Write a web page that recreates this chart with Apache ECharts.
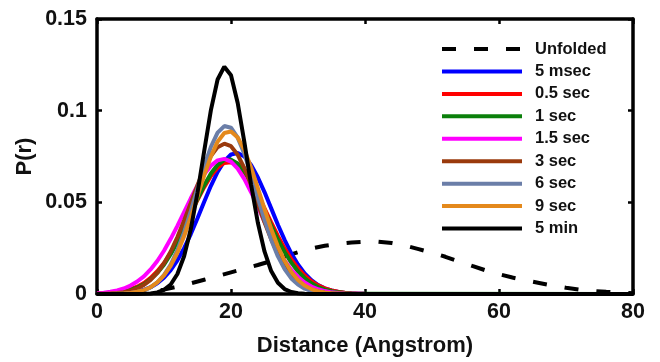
<!DOCTYPE html>
<html>
<head>
<meta charset="utf-8">
<script src="https://cdn.jsdelivr.net/npm/echarts@6/dist/echarts.min.js"></script>
<style>
  html, body { margin: 0; padding: 0; background: #fff; }
  #chart { width: 660px; height: 362px; }
</style>
</head>
<body>
<div id="chart"></div>
<script>
// distance axis (Angstrom) for the folded-state curves, 1 A steps, then the far end
const foldedR = [0, 1, 2, 3, 4, 5, 6, 7, 8, 9, 10, 11, 12, 13, 14, 15, 16, 17, 18, 19, 20,
  21, 22, 23, 24, 25, 26, 27, 28, 29, 30, 31, 32, 33, 34, 35, 36, 37, 38, 39, 40, 80];
// distance axis for the unfolded curve, 2 A steps
const unfoldedR = [0, 2, 4, 6, 8, 10, 12, 14, 16, 18, 20, 22, 24, 26, 28, 30, 32, 34, 36, 38, 40,
  42, 44, 46, 48, 50, 52, 54, 56, 58, 60, 62, 64, 66, 68, 70, 72, 74, 76, 78, 80];

const unfolded = [0, 0, 0.0002, 0.0005, 0.0012, 0.0024, 0.0040, 0.0058, 0.0078, 0.0098, 0.0118,
  0.0138, 0.0158, 0.0180, 0.0205, 0.0228, 0.0248, 0.0263, 0.0274, 0.0281, 0.0285,
  0.0285, 0.0278, 0.0264, 0.0245, 0.0225, 0.0203, 0.0178, 0.0153, 0.0129, 0.0108,
  0.0090, 0.0074, 0.0060, 0.0046, 0.0034, 0.0024, 0.0017, 0.0012, 0.0008, 0.0004];

const msec5 = [0, 0.0001, 0.0001, 0.0002, 0.0004, 0.0008, 0.0013, 0.0023, 0.0037, 0.0059, 0.0089,
  0.0130, 0.0184, 0.0250, 0.0327, 0.0413, 0.0503, 0.0590, 0.0666, 0.0725, 0.0761,
  0.0769, 0.0750, 0.0704, 0.0637, 0.0556, 0.0467, 0.0378, 0.0295, 0.0222, 0.0161,
  0.0112, 0.0076, 0.0049, 0.0031, 0.0019, 0.0011, 0.0006, 0.0003, 0.0002, 0.0001, 0];
const sec05 = [0.0002, 0.0003, 0.0006, 0.0010, 0.0016, 0.0026, 0.0040, 0.0060, 0.0088, 0.0124, 0.0169,
  0.0225, 0.0289, 0.0361, 0.0437, 0.0513, 0.0583, 0.0644, 0.0689, 0.0715, 0.0719,
  0.0702, 0.0664, 0.0609, 0.0542, 0.0467, 0.0391, 0.0317, 0.0249, 0.0190, 0.0141,
  0.0101, 0.0070, 0.0047, 0.0031, 0.0020, 0.0012, 0.0007, 0.0004, 0.0002, 0.0001, 0];
const sec1 = [0.0001, 0.0002, 0.0004, 0.0008, 0.0013, 0.0022, 0.0035, 0.0053, 0.0080, 0.0115, 0.0160,
  0.0217, 0.0283, 0.0358, 0.0438, 0.0518, 0.0593, 0.0657, 0.0705, 0.0731, 0.0733,
  0.0712, 0.0668, 0.0607, 0.0534, 0.0454, 0.0373, 0.0297, 0.0229, 0.0171, 0.0123,
  0.0086, 0.0058, 0.0038, 0.0024, 0.0015, 0.0009, 0.0005, 0.0003, 0.0001, 0.0001, 0];
const sec15 = [0.0004, 0.0007, 0.0012, 0.0020, 0.0030, 0.0046, 0.0068, 0.0096, 0.0134, 0.0180, 0.0236,
  0.0301, 0.0372, 0.0447, 0.0522, 0.0592, 0.0653, 0.0700, 0.0729, 0.0737, 0.0722,
  0.0684, 0.0627, 0.0555, 0.0476, 0.0394, 0.0315, 0.0244, 0.0183, 0.0132, 0.0093,
  0.0063, 0.0041, 0.0026, 0.0016, 0.0009, 0.0005, 0.0003, 0.0002, 0.0001, 0, 0];
const sec3 = [0.0001, 0.0002, 0.0003, 0.0006, 0.0010, 0.0018, 0.0030, 0.0049, 0.0077, 0.0115, 0.0167,
  0.0232, 0.0311, 0.0401, 0.0497, 0.0594, 0.0682, 0.0753, 0.0801, 0.0820, 0.0806,
  0.0759, 0.0686, 0.0593, 0.0492, 0.0391, 0.0298, 0.0218, 0.0152, 0.0102, 0.0066,
  0.0040, 0.0024, 0.0014, 0.0007, 0.0004, 0.0002, 0.0001, 0, 0, 0, 0];
const sec6 = [0, 0, 0, 0.0001, 0.0002, 0.0005, 0.0011, 0.0020, 0.0036, 0.0063, 0.0103,
  0.0161, 0.0239, 0.0337, 0.0452, 0.0576, 0.0697, 0.0803, 0.0880, 0.0916, 0.0907,
  0.0853, 0.0764, 0.0650, 0.0526, 0.0404, 0.0296, 0.0205, 0.0136, 0.0085, 0.0051,
  0.0029, 0.0016, 0.0008, 0.0004, 0.0002, 0.0001, 0, 0, 0, 0, 0];
const sec9 = [0, 0, 0.0001, 0.0001, 0.0003, 0.0006, 0.0012, 0.0021, 0.0037, 0.0063, 0.0101,
  0.0154, 0.0225, 0.0315, 0.0419, 0.0533, 0.0647, 0.0750, 0.0831, 0.0878, 0.0886,
  0.0854, 0.0786, 0.0690, 0.0579, 0.0464, 0.0355, 0.0259, 0.0181, 0.0120, 0.0076,
  0.0046, 0.0027, 0.0015, 0.0008, 0.0004, 0.0002, 0.0001, 0, 0, 0, 0];
const min5 = [0, 0, 0, 0, 0, 0, 0, 0.0001, 0.0003, 0.0009, 0.0023,
  0.0052, 0.0109, 0.0206, 0.0354, 0.0552, 0.0780, 0.1003, 0.1170, 0.1240, 0.1193,
  0.1042, 0.0827, 0.0596, 0.0390, 0.0232, 0.0125, 0.0061, 0.0027, 0.0011, 0.0004,
  0.0001, 0, 0, 0, 0, 0, 0, 0, 0, 0, 0];

const xTicks = [0, 20, 40, 60, 80];
const yTicks = [0, 0.05, 0.1, 0.15];

const FONT = 'Liberation Sans';
const INK = '#111';

function pairs(xs, ys) {
  return xs.map((x, i) => [x, ys[i]]);
}

function curve(name, xs, ys, color, dash) {
  return {
    name: name,
    type: 'line',
    symbol: 'none',
    data: pairs(xs, ys),
    lineStyle: { color: color, width: 4, type: dash || 'solid' },
    itemStyle: { color: color },
    animation: false,
  };
}

const chart = echarts.init(document.getElementById('chart'));

// the frame: all four sides black, ticks pointing inward
const boxAxis = {
  min: 0,
  axisLine: { show: true, onZero: false, lineStyle: { color: '#000', width: 3.5 } },
  axisTick: { show: true, inside: true, length: 5, lineStyle: { color: '#000', width: 2.5 } },
  splitLine: { show: false },
};

const option = {
  backgroundColor: '#fff',
  animation: false,
  grid: { left: 97, right: 27, top: 19, bottom: 67 },
  legend: {
    orient: 'vertical',
    left: 440,
    top: 40,
    itemWidth: 80,
    itemHeight: 18,
    itemGap: 4.44,
    padding: 0,
    itemStyle: { opacity: 0 },
    lineStyle: { width: 4 },
    textStyle: {
      fontFamily: FONT, fontWeight: 'bold', fontSize: 16.5, color: INK,
      lineHeight: 18, padding: [0, 0, 0, 8],
    },
    data: ['Unfolded', '5 msec', '0.5 sec', '1 sec', '1.5 sec', '3 sec', '6 sec', '9 sec', '5 min'],
  },
  xAxis: [
    Object.assign({}, boxAxis, {
      type: 'value',
      max: xTicks[xTicks.length - 1],
      interval: xTicks[1] - xTicks[0],
      position: 'bottom',
      name: 'Distance (Angstrom)',
      nameLocation: 'middle',
      nameGap: 41,
      nameMoveOverlap: false,
      nameTextStyle: { fontFamily: FONT, fontWeight: 'bold', fontSize: 22, color: INK },
      axisLabel: { margin: 7, fontFamily: FONT, fontWeight: 'bold', fontSize: 21.5, color: INK },
    }),
    Object.assign({}, boxAxis, {
      type: 'value',
      max: xTicks[xTicks.length - 1],
      interval: xTicks[1] - xTicks[0],
      position: 'top',
      axisLabel: { show: false },
    }),
  ],
  yAxis: [
    Object.assign({}, boxAxis, {
      type: 'value',
      max: yTicks[yTicks.length - 1],
      interval: yTicks[1] - yTicks[0],
      position: 'left',
      name: 'P(r)',
      nameLocation: 'middle',
      nameGap: 61,
      nameMoveOverlap: false,
      nameTextStyle: { fontFamily: FONT, fontWeight: 'bold', fontSize: 22, color: INK },
      axisLabel: { margin: 10, fontFamily: FONT, fontWeight: 'bold', fontSize: 21.5, color: INK },
    }),
    Object.assign({}, boxAxis, {
      type: 'value',
      max: yTicks[yTicks.length - 1],
      interval: yTicks[1] - yTicks[0],
      position: 'right',
      axisLabel: { show: false },
    }),
  ],
  series: [
    curve('Unfolded', unfoldedR, unfolded, '#000000', [14, 18]),
    curve('5 msec', foldedR, msec5, '#0000ff'),
    curve('0.5 sec', foldedR, sec05, '#ff0000'),
    curve('1 sec', foldedR, sec1, '#0b800b'),
    curve('1.5 sec', foldedR, sec15, '#ff00ff'),
    curve('3 sec', foldedR, sec3, '#9a3a0c'),
    curve('6 sec', foldedR, sec6, '#6b7ea8'),
    curve('9 sec', foldedR, sec9, '#e4891c'),
    curve('5 min', foldedR, min5, '#000000'),
  ],
};

chart.setOption(option);
</script>
</body>
</html>
